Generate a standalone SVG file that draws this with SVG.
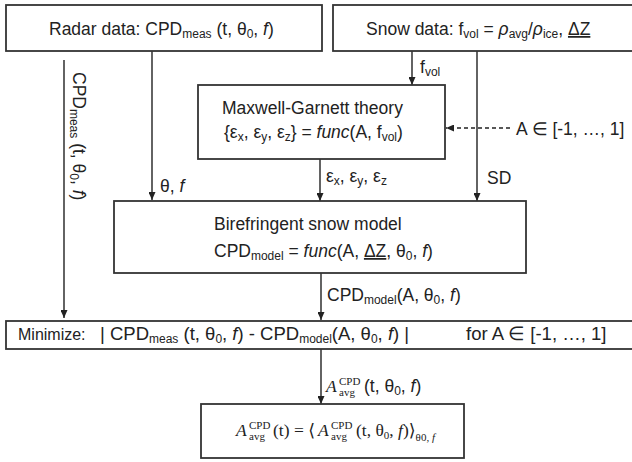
<svg xmlns="http://www.w3.org/2000/svg" width="632" height="462" viewBox="0 0 632 462">
<defs>
<marker id="ah" viewBox="0 0 8 7" refX="8" refY="3.5" markerWidth="8" markerHeight="7" markerUnits="userSpaceOnUse" orient="auto">
<path d="M0,0 L8,3.5 L0,7 z" fill="#222"/>
</marker>
</defs>
<style>
.box{fill:#fff;stroke:#333;stroke-width:1.8}
.t{font-family:"Liberation Sans",Arial,sans-serif;font-size:17.5px;fill:#222}
.s{font-size:12px}
.i{font-style:italic}
.m{font-family:"Liberation Serif","DejaVu Serif",serif}
.sm{font-size:11px}
.big{font-size:18.5px}
.ln{fill:none;stroke:#222;stroke-width:1.4}
.dash{stroke-dasharray:4 3}
</style>
<g id="connectors">
<path class="ln" d="M152,51 V200" marker-end="url(#ah)"/>
<path class="ln" d="M64,60 V318" marker-end="url(#ah)"/>
<path class="ln" d="M412,51 V85" marker-end="url(#ah)"/>
<path class="ln" d="M477,51 V201" marker-end="url(#ah)"/>
<path class="ln" d="M320,159 V201" marker-end="url(#ah)"/>
<path class="ln dash" d="M510,128 H446" marker-end="url(#ah)"/>
<path class="ln" d="M321,273 V320" marker-end="url(#ah)"/>
<path class="ln" d="M321,349 V404" marker-end="url(#ah)"/>
<text class="t" transform="translate(73,72) rotate(90)">CPD<tspan class="s" dy="3">meas</tspan><tspan dy="-3"> (t, θ</tspan><tspan class="s" dy="3">0</tspan><tspan dy="-3">, </tspan><tspan class="i">f</tspan>)</text>
<text class="t" x="420" y="73">f<tspan class="s" dy="3">vol</tspan></text>
<text class="t" x="160" y="192">θ, <tspan class="i">f</tspan></text>
<text class="t" x="326" y="182">ε<tspan class="s" dy="3">x</tspan><tspan dy="-3">, ε</tspan><tspan class="s" dy="3">y</tspan><tspan dy="-3">, ε</tspan><tspan class="s" dy="3">z</tspan></text>
<text class="t" x="487" y="184">SD</text>
<text class="t" x="516" y="135">A ∈ [-1, …, 1]</text>
<text class="t" x="327" y="301">CPD<tspan class="s" dy="3">model</tspan><tspan dy="-3">(A, θ</tspan><tspan class="s" dy="3">0</tspan><tspan dy="-3">, </tspan><tspan class="i">f</tspan>)</text>
<text class="t m i" x="326" y="392">A</text>
<text class="t m sm" x="339" y="385">CPD</text>
<text class="t m sm" x="339" y="396">avg</text>
<text class="t" x="364" y="392">(t, θ<tspan class="s" dy="3">0</tspan><tspan dy="-3">, </tspan><tspan class="i">f</tspan>)</text>
</g>
<g id="radar">
<rect class="box" x="6" y="5" width="316" height="46"/>
<text class="t" x="49" y="35">Radar data: CPD<tspan class="s" dy="3">meas</tspan><tspan dy="-3"> (t, θ</tspan><tspan class="s" dy="3">0</tspan><tspan dy="-3">, </tspan><tspan class="i">f</tspan>)</text>
</g>
<g id="snow">
<rect class="box" x="333" y="5" width="310" height="46"/>
<text class="t" x="366" y="35">Snow data: f<tspan class="s" dy="3">vol</tspan><tspan dy="-3"> = </tspan><tspan class="i">ρ</tspan><tspan class="s" dy="3">avg</tspan><tspan dy="-3">/</tspan><tspan class="i">ρ</tspan><tspan class="s" dy="3">ice</tspan><tspan dy="-3">, </tspan><tspan text-decoration="underline">ΔZ</tspan></text>
</g>
<g id="maxwell">
<rect class="box" x="198" y="85" width="247" height="74"/>
<text class="t" x="222" y="114">Maxwell-Garnett theory</text>
<text class="t" x="224" y="138">{ε<tspan class="s" dy="3">x</tspan><tspan dy="-3">, ε</tspan><tspan class="s" dy="3">y</tspan><tspan dy="-3">, ε</tspan><tspan class="s" dy="3">z</tspan><tspan dy="-3">} = </tspan><tspan class="i">func</tspan>(A, f<tspan class="s" dy="3">vol</tspan><tspan dy="-3">)</tspan></text>
</g>
<g id="birefringent">
<rect class="box" x="114" y="201" width="412" height="72"/>
<text class="t" x="214" y="230">Birefringent snow model</text>
<text class="t" x="214" y="257">CPD<tspan class="s" dy="3">model</tspan><tspan dy="-3"> = </tspan><tspan class="i">func</tspan>(A, <tspan text-decoration="underline">ΔZ</tspan>, θ<tspan class="s" dy="3">0</tspan><tspan dy="-3">, </tspan><tspan class="i">f</tspan>)</text>
</g>
<g id="minimize">
<rect class="box" x="6" y="321" width="640" height="28"/>
<text class="t" x="18" y="340" style="font-size:16px">Minimize:</text>
<text class="t big" x="100" y="340">| CPD<tspan class="s" dy="3">meas</tspan><tspan dy="-3"> (t, θ</tspan><tspan class="s" dy="3">0</tspan><tspan dy="-3">, </tspan><tspan class="i">f</tspan>) - CPD<tspan class="s" dy="3">model</tspan><tspan dy="-3">(A, θ</tspan><tspan class="s" dy="3">0</tspan><tspan dy="-3">, </tspan><tspan class="i">f</tspan>) |</text>
<text class="t big" x="466" y="340">for A ∈ [-1, …, 1]</text>
</g>
<g id="average">
<rect class="box" x="201" y="404" width="263" height="54"/>
<text class="t m i" x="236" y="436">A</text>
<text class="t m sm" x="249" y="429">CPD</text>
<text class="t m sm" x="249" y="440">avg</text>
<text class="t m" x="273" y="436">(t) = ⟨</text>
<text class="t m i" x="318" y="436">A</text>
<text class="t m sm" x="331" y="429">CPD</text>
<text class="t m sm" x="331" y="440">avg</text>
<text class="t m" x="356" y="436">(t, θ<tspan class="sm" dy="3">0</tspan><tspan dy="-3">, </tspan><tspan class="i">f</tspan>)⟩<tspan class="sm" dy="5">θ0, <tspan class="i">f</tspan></tspan></text>
</g>
</svg>
